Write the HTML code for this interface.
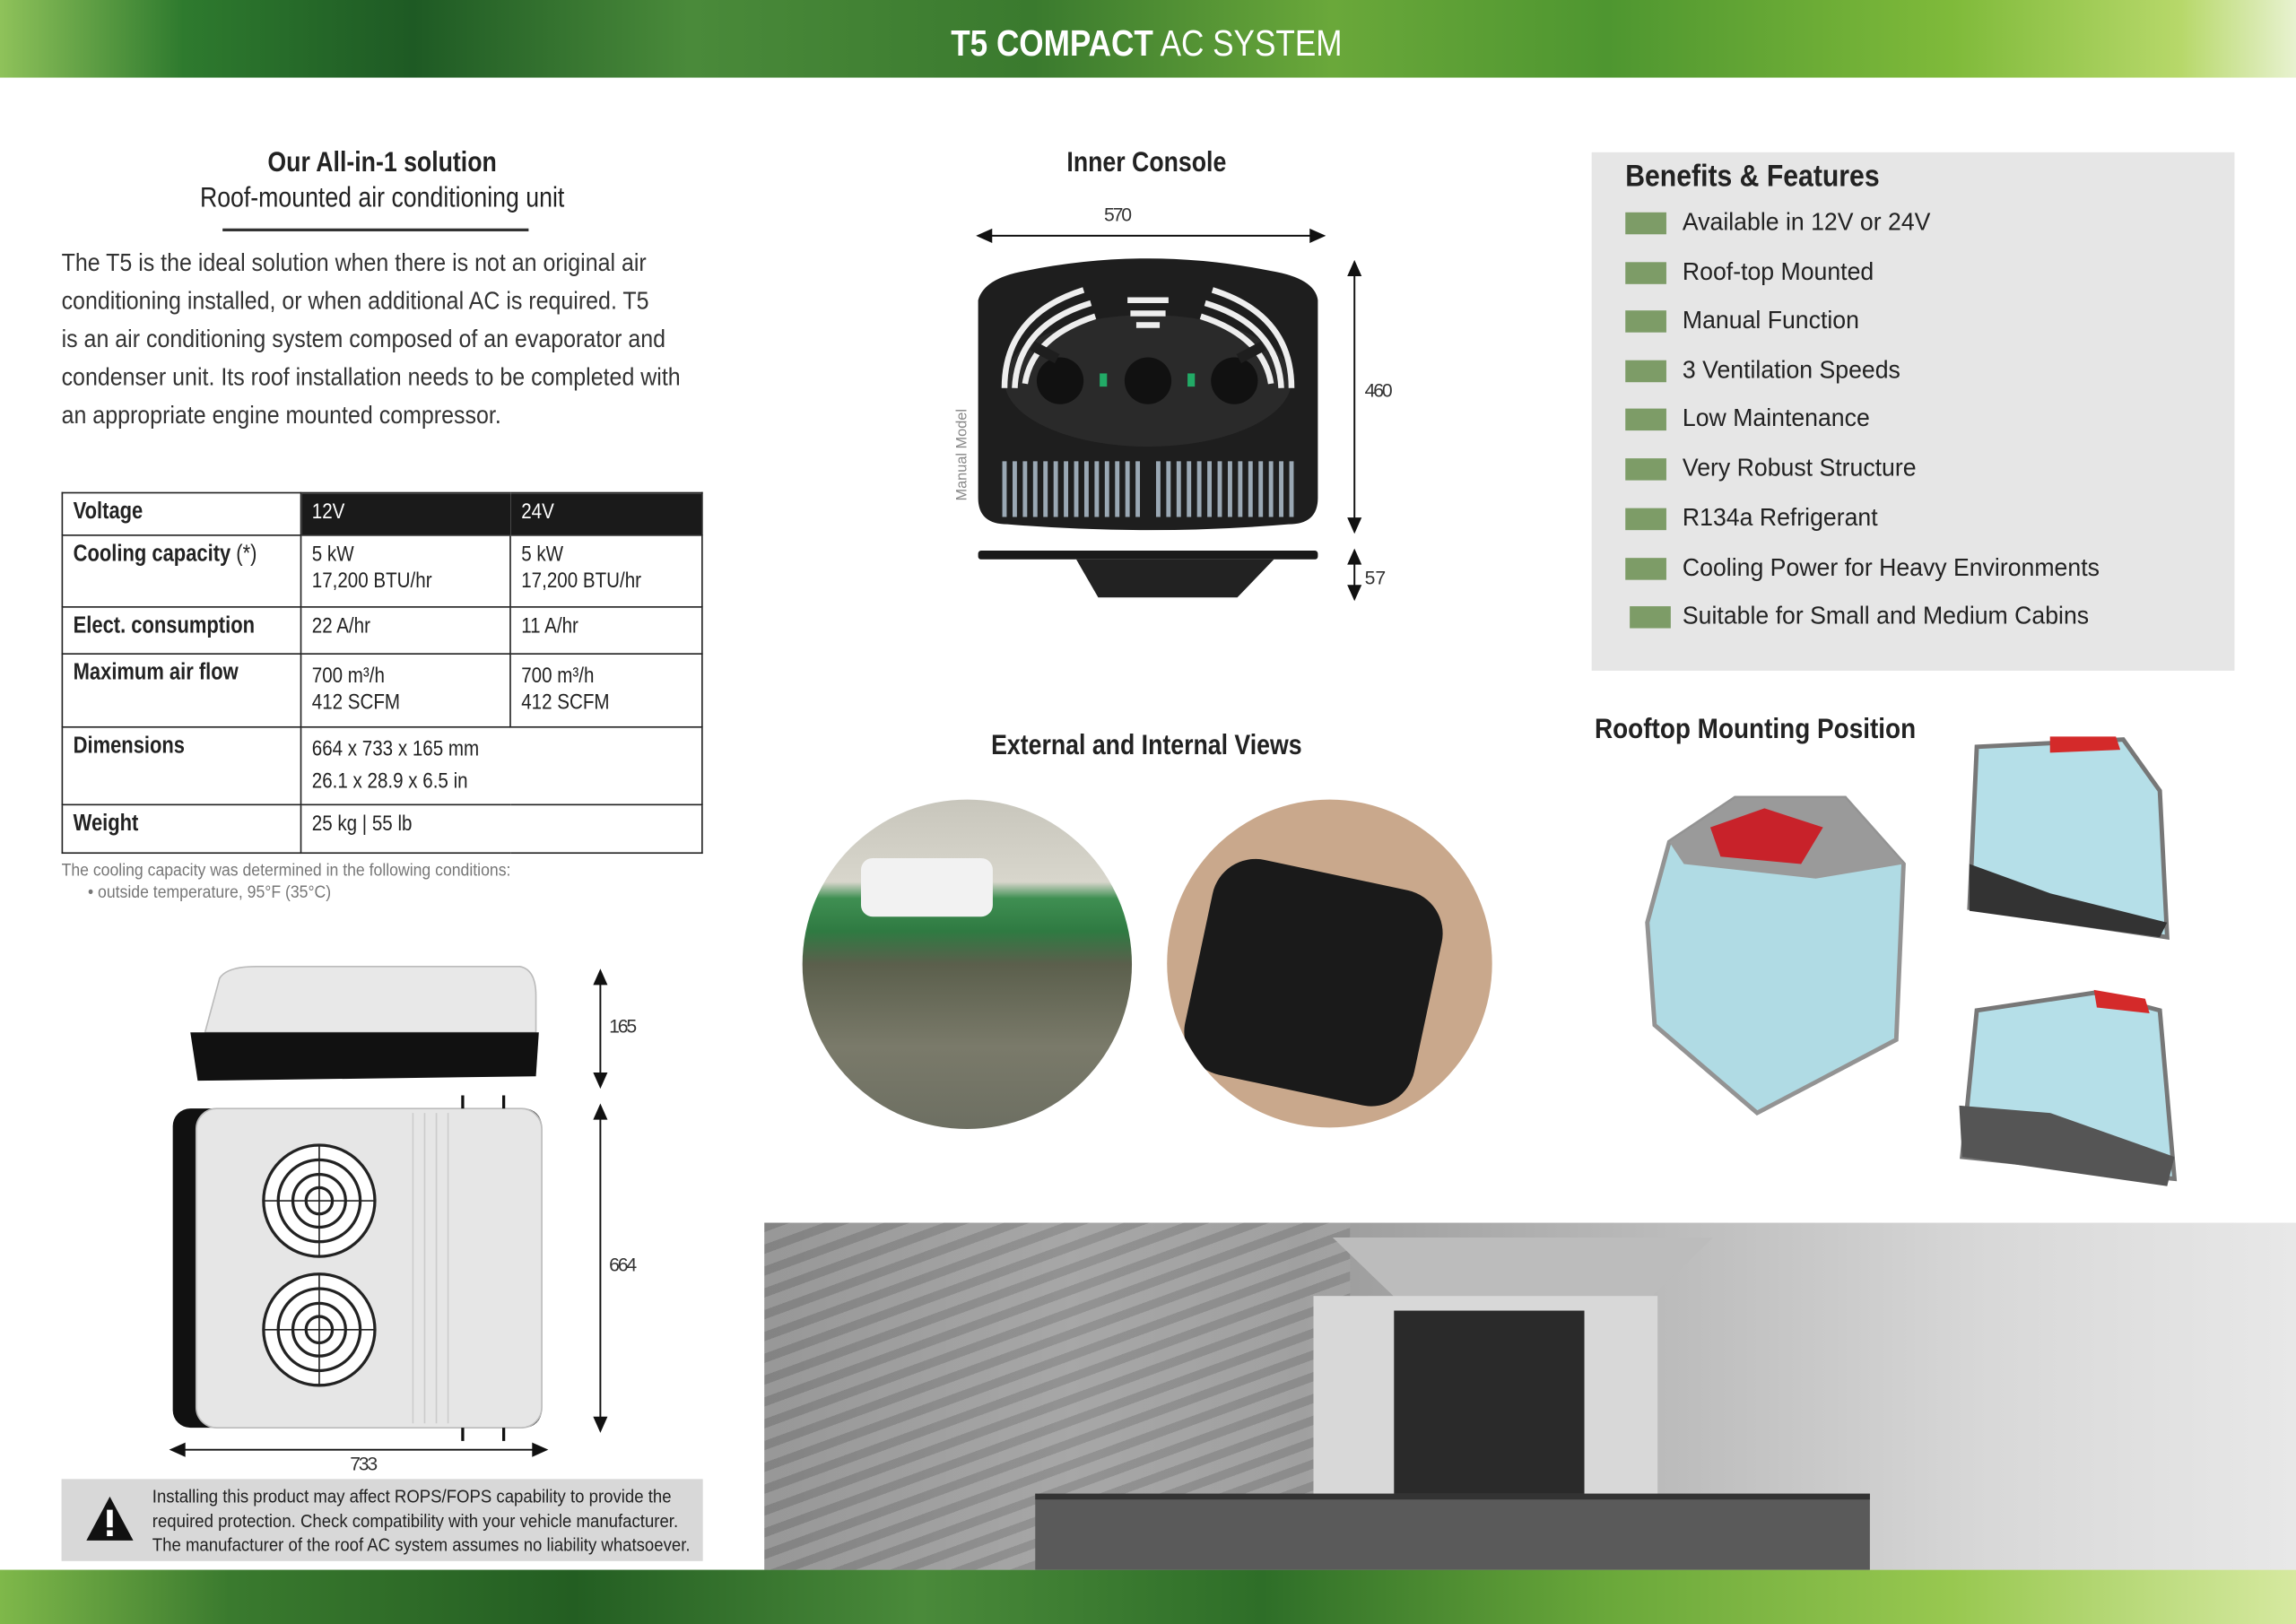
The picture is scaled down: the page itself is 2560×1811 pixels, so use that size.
<!DOCTYPE html>
<html><head><meta charset="utf-8"><style>
html,body{margin:0;padding:0;background:#fff;overflow:hidden}
#w{width:1568px;height:1109px;position:relative;transform:scale(1.63265,1.63300);transform-origin:0 0;font-family:"Liberation Sans",sans-serif;color:#222}
.a{position:absolute}
.c{transform:translateX(-50%);white-space:nowrap}
.n{display:inline-block;transform:scaleX(.84);transform-origin:0 0;white-space:nowrap}
.p{display:inline-block;transform:scaleX(.9);transform-origin:0 0;white-space:nowrap}
.nc{display:inline-block;transform:scaleX(.86);transform-origin:50% 0;white-space:nowrap}
table{border-collapse:collapse;font-size:15px;table-layout:fixed}
td{border:1px solid #222;vertical-align:top;padding:4px 7px;line-height:18px;white-space:nowrap;overflow:hidden}
td.h{font-weight:bold;font-size:16px}
.li{position:absolute;left:1110px;font-size:17px;color:#222}
.li:before{content:"";position:absolute;left:0;top:-9px;width:28px;height:15px;background:#7d9c67}
.li span{position:absolute;left:39px;top:-12px;white-space:nowrap;transform:scaleX(.96);transform-origin:0 0}
</style></head><body><div id="w">
<div class="a" style="left:0;top:0;width:1568px;height:53px;background:linear-gradient(90deg,#8fc25a 0%,#2e7a2e 8%,#1e5a24 18%,#4a8a3a 30%,#3a7a2e 45%,#6aa83a 58%,#4e9630 70%,#7fba3a 85%,#b7d86a 95%,#e8f2d0 100%)"></div>
<div class="a c" style="left:783px;top:16px;font-size:25px;color:#fff"><span class="nc"><b>T5 COMPACT</b> AC SYSTEM</span></div>
<div class="a" style="left:0;top:1072px;width:1568px;height:37px;background:linear-gradient(90deg,#7fb84a 0%,#3a7a2e 10%,#235e22 25%,#4a8a3a 40%,#2e6e28 55%,#6aa83a 70%,#98c850 85%,#d6e9a0 100%)"></div>

<div class="a c" style="left:261px;top:101px;font-size:19px;font-weight:bold"><span class="nc">Our All-in-1 solution</span></div>
<div class="a c" style="left:261px;top:125px;font-size:19px"><span class="nc">Roof-mounted air conditioning unit</span></div>
<div class="a" style="left:152px;top:156px;width:209px;height:2px;background:#333"></div>
<div class="a" style="left:42px;top:167px;font-size:17px;line-height:26.1px;color:#333"><span class="p">The T5 is the ideal solution when there is not an original air</span><br><span class="p">conditioning installed, or when additional AC is required. T5</span><br><span class="p">is an air conditioning system composed of an evaporator and</span><br><span class="p">condenser unit. Its roof installation needs to be completed with</span><br><span class="p">an appropriate engine mounted compressor.</span></div>

<table class="a" style="left:42px;top:336px;width:438px">
<col style="width:163px"><col style="width:143px"><col>
<tr style="height:29px"><td class="h"><span class="n">Voltage</span></td><td style="background:#1a1a1a;color:#fff;border-right:none"><span class="n">12V</span></td><td style="background:#1a1a1a;color:#fff;border-left:none"><span class="n">24V</span></td></tr>
<tr style="height:49px"><td class="h"><span class="n">Cooling capacity <span style="font-weight:normal">(*)</span></span></td><td><span class="n">5 kW<br>17,200 BTU/hr</span></td><td><span class="n">5 kW<br>17,200 BTU/hr</span></td></tr>
<tr style="height:32px"><td class="h"><span class="n">Elect. consumption</span></td><td><span class="n">22 A/hr</span></td><td><span class="n">11 A/hr</span></td></tr>
<tr style="height:50px"><td class="h"><span class="n">Maximum air flow</span></td><td style="padding-top:6px"><span class="n">700 m³/h<br>412 SCFM</span></td><td style="padding-top:6px"><span class="n">700 m³/h<br>412 SCFM</span></td></tr>
<tr style="height:53px"><td class="h"><span class="n">Dimensions</span></td><td colspan="2" style="line-height:22px"><span class="n">664 x 733 x 165 mm<br>26.1 x 28.9 x 6.5 in</span></td></tr>
<tr style="height:33px"><td class="h"><span class="n">Weight</span></td><td colspan="2"><span class="n">25 kg | 55 lb</span></td></tr>
</table>
<div class="a" style="left:42px;top:587px;font-size:12px;color:#777;line-height:15px"><span class="p">The cooling capacity was determined in the following conditions:</span><br><span class="p">&nbsp;&nbsp;&nbsp;&nbsp;&nbsp;&nbsp;• outside temperature, 95°F (35°C)</span></div>

<svg class="a" style="left:100px;top:650px" width="360" height="360" viewBox="100 650 360 360">
<path d="M150 668 Q155 660 175 660 L355 660 Q366 662 366 680 L366 705 L140 705 Z" fill="#e8e8e8" stroke="#bbb"/>
<path d="M130 705 L368 705 L366 735 L135 738 Z" fill="#111"/>
<rect x="118" y="757" width="252" height="218" rx="12" fill="#111"/>
<rect x="134" y="757" width="236" height="218" rx="14" fill="#e6e6e6" stroke="#bbb"/>
<g fill="none" stroke="#222" stroke-width="2">
<circle cx="218" cy="820" r="38" fill="#fff"/><circle cx="218" cy="820" r="28"/><circle cx="218" cy="820" r="18"/><circle cx="218" cy="820" r="9"/>
<circle cx="218" cy="908" r="38" fill="#fff"/><circle cx="218" cy="908" r="28"/><circle cx="218" cy="908" r="18"/><circle cx="218" cy="908" r="9"/>
<path d="M180 820 H256 M218 782 V858 M180 908 H256 M218 870 V946" stroke-width="1"/></g>
<path d="M282 760 V972 M290 760 V972 M298 760 V972 M306 760 V972" stroke="#ccc"/>
<path d="M316 748 V757 M344 748 V757 M316 975 V984 M344 975 V984" stroke="#111" stroke-width="2"/>
<g stroke="#111" stroke-width="1.2" fill="#111">
<line x1="410" y1="668" x2="410" y2="737"/><path d="M406 672 L410 663 L414 672Z M406 733 L410 742 L414 733Z"/>
<line x1="410" y1="760" x2="410" y2="972"/><path d="M406 764 L410 755 L414 764Z M406 968 L410 977 L414 968Z"/>
<line x1="122" y1="990" x2="368" y2="990"/><path d="M126 986 L117 990 L126 994Z M364 986 L373 990 L364 994Z"/>
</g>
<text x="416" y="705" font-size="13" font-family="Liberation Sans,sans-serif" fill="#333" textLength="19">165</text>
<text x="416" y="868" font-size="13" font-family="Liberation Sans,sans-serif" fill="#333" textLength="19">664</text>
<text x="239" y="1004" font-size="13" font-family="Liberation Sans,sans-serif" fill="#333" textLength="19">733</text>
</svg>

<div class="a" style="left:42px;top:1010px;width:438px;height:56px;background:#d8d8d8"></div>
<svg class="a" style="left:57px;top:1020px" width="36" height="34"><path d="M18 2 L34 32 L2 32 Z" fill="#111"/><rect x="16" y="11" width="4" height="12" fill="#fff"/><rect x="16" y="25" width="4" height="4" fill="#fff"/></svg>
<div class="a" style="left:104px;top:1014px;font-size:12.5px;line-height:16.7px;color:#222"><span class="n" style="transform:scaleX(.91)">Installing this product may affect ROPS/FOPS capability to provide the</span><br><span class="n" style="transform:scaleX(.91)">required protection. Check compatibility with your vehicle manufacturer.</span><br><span class="n" style="transform:scaleX(.91)">The manufacturer of the roof AC system assumes no liability whatsoever.</span></div>

<div class="a c" style="left:783px;top:101px;font-size:19px;font-weight:bold"><span class="nc">Inner Console</span></div>
<svg class="a" style="left:640px;top:130px" width="330" height="290" viewBox="640 130 330 290">
<g stroke="#111" stroke-width="1.2" fill="#111">
<line x1="672" y1="161" x2="900" y2="161"/><path d="M677 157 L668 161 L677 165Z M895 157 L904 161 L895 165Z"/>
<line x1="925" y1="184" x2="925" y2="358"/><path d="M921 188 L925 179 L929 188Z M921 354 L925 363 L929 354Z"/>
<line x1="925" y1="381" x2="925" y2="404"/><path d="M921 385 L925 376 L929 385Z M921 400 L925 409 L929 400Z"/>
</g>
<text x="754" y="151" font-size="13" font-family="Liberation Sans,sans-serif" fill="#333" textLength="19">570</text>
<text x="932" y="271" font-size="13" font-family="Liberation Sans,sans-serif" fill="#333" textLength="19">460</text>
<text x="932" y="399" font-size="13" font-family="Liberation Sans,sans-serif" fill="#333">57</text>
<text transform="translate(660,342) rotate(-90)" font-size="10" font-family="Liberation Sans,sans-serif" fill="#888">Manual Model</text>
<path d="M668 205 Q672 190 700 185 Q784 168 868 185 Q898 190 900 205 L900 340 Q900 358 880 358 Q784 366 688 358 Q668 358 668 340 Z" fill="#1e1e1e"/>
<ellipse cx="784" cy="260" rx="98" ry="45" fill="#2a2a2a"/>
<circle cx="724" cy="260" r="16" fill="#111"/><circle cx="784" cy="260" r="16" fill="#111"/><circle cx="843" cy="260" r="16" fill="#111"/>
<rect x="751" y="255" width="5" height="9" fill="#2a6"/><rect x="811" y="255" width="5" height="9" fill="#2a6"/>
<g fill="none" stroke="#eee" stroke-width="4">
<path d="M686 265 Q686 215 740 198"/><path d="M693 265 Q695 222 745 207"/><path d="M700 262 Q705 230 748 216"/>
<path d="M882 265 Q882 215 828 198"/><path d="M875 265 Q873 222 823 207"/><path d="M868 262 Q863 230 820 216"/>
<path d="M770 205 H798 M772 214 H796 M776 222 H792"/></g>
<g stroke="#1e1e1e" stroke-width="7"><path d="M705 236 L722 245 M863 236 L846 245"/></g>
<g stroke="#9aa8b4" stroke-width="3">
<path d="M686 315 V353 M693 315 V353 M700 315 V353 M707 315 V353 M714 315 V353 M721 315 V353 M728 315 V353 M735 315 V353 M742 315 V353 M749 315 V353 M756 315 V353 M763 315 V353 M770 315 V353 M777 315 V353 M791 315 V353 M798 315 V353 M805 315 V353 M812 315 V353 M819 315 V353 M826 315 V353 M833 315 V353 M840 315 V353 M847 315 V353 M854 315 V353 M861 315 V353 M868 315 V353 M875 315 V353 M882 315 V353"/></g>
<rect x="668" y="376" width="232" height="6" rx="2" fill="#1a1a1a"/>
<path d="M735 382 L870 382 L845 408 L750 408 Z" fill="#222"/>
</svg>

<div class="a" style="left:1087px;top:104px;width:439px;height:354px;background:#e6e6e6"></div>
<div class="a" style="left:1110px;top:109px;font-size:21px;font-weight:bold"><span class="n" style="transform:scaleX(.88)">Benefits &amp; Features</span></div>
<div class="li" style="top:154px"><span>Available in 12V or 24V</span></div>
<div class="li" style="top:188px"><span>Roof-top Mounted</span></div>
<div class="li" style="top:221px"><span>Manual Function</span></div>
<div class="li" style="top:255px"><span>3 Ventilation Speeds</span></div>
<div class="li" style="top:288px"><span>Low Maintenance</span></div>
<div class="li" style="top:322px"><span>Very Robust Structure</span></div>
<div class="li" style="top:356px"><span>R134a Refrigerant</span></div>
<div class="li" style="top:390px"><span>Cooling Power for Heavy Environments</span></div>
<div class="li" style="top:423px;left:1113px"><span style="left:36px">Suitable for Small and Medium Cabins</span></div>

<div class="a c" style="left:783px;top:499px;font-size:19px;font-weight:bold"><span class="nc">External and Internal Views</span></div>
<div class="a" style="left:548px;top:546px;width:225px;height:225px;border-radius:50%;overflow:hidden;background:linear-gradient(180deg,#c8c6bc 0%,#d8d6cc 25%,#3f8f52 30%,#2f7a42 40%,#5b5f4c 50%,#7a7a6a 75%,#6d6f62 100%)">
<div class="a" style="left:40px;top:40px;width:90px;height:40px;background:#f2f2f2;border-radius:8px"></div></div>
<div class="a" style="left:797px;top:546px;width:222px;height:224px;border-radius:50%;overflow:hidden;background:#c9a88c">
<div class="a" style="left:20px;top:50px;width:160px;height:150px;background:#1a1a1a;border-radius:30px;transform:rotate(12deg)"></div></div>

<div class="a" style="left:1089px;top:488px;font-size:19px;font-weight:bold"><span class="n" style="transform:scaleX(.9)">Rooftop Mounting Position</span></div>
<svg class="a" style="left:1110px;top:500px" width="400" height="320" viewBox="1110 500 400 320">
<path d="M1140 575 L1185 545 L1260 545 L1300 590 L1295 710 L1200 760 L1130 700 L1125 630 Z" fill="#a8d8e2" stroke="#888" stroke-width="3" opacity=".9"/>
<path d="M1140 575 L1185 545 L1260 545 L1300 590 L1240 600 L1150 590 Z" fill="#9a9a9a"/>
<path d="M1168 565 L1205 552 L1245 565 L1230 590 L1175 585 Z" fill="#c8222a"/>
<path d="M1350 510 L1450 505 L1475 540 L1480 640 L1345 620 Z" fill="#b5dfe8" stroke="#777" stroke-width="3"/>
<path d="M1400 503 L1445 503 L1448 512 L1400 514Z" fill="#d42a2a"/>
<path d="M1345 590 L1400 610 L1480 630 L1475 640 L1345 622Z" fill="#333"/>
<path d="M1350 690 L1430 678 L1475 690 L1485 805 L1340 790 Z" fill="#b5dfe8" stroke="#777" stroke-width="3"/>
<path d="M1430 676 L1465 682 L1468 692 L1432 688Z" fill="#d42a2a"/>
<path d="M1338 755 L1400 760 L1485 790 L1480 810 L1340 790 Z" fill="#555"/>
</svg>

<div class="a" style="left:522px;top:835px;width:1046px;height:237px;overflow:hidden;background:linear-gradient(90deg,#8a8a8a 0%,#a6a6a6 20%,#9a9a9a 35%,#bdbdbd 60%,#d8d8d8 80%,#e8e8e8 100%)">
<div class="a" style="left:0;top:0;width:400px;height:237px;background:repeating-linear-gradient(160deg,#7a7a7a 0 6px,#a8a8a8 6px 14px);opacity:.45"></div>
<div class="a" style="left:388px;top:10px;width:260px;height:50px;background:#bcbcbc;clip-path:polygon(0 0,100% 0,80% 100%,20% 100%)"></div>
<div class="a" style="left:375px;top:50px;width:235px;height:160px;background:#d8d8d8"></div>
<div class="a" style="left:430px;top:60px;width:130px;height:130px;background:#2a2a2a"></div>
<div class="a" style="left:185px;top:185px;width:570px;height:52px;background:#5a5a5a;border-top:4px solid #333"></div>
</div>
</div></body></html>
